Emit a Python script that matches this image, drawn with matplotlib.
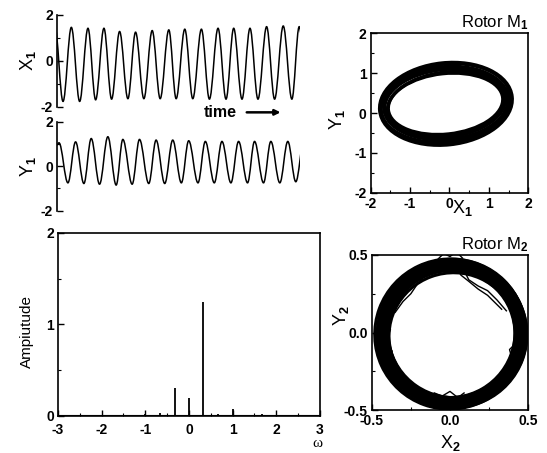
import matplotlib
matplotlib.use('Agg')
import matplotlib.pyplot as plt
from matplotlib.path import Path
from matplotlib.patches import PathPatch, Ellipse
from matplotlib.ticker import MultipleLocator, FormatStrFormatter

plt.rcParams['font.family'] = ['Liberation Sans', 'DejaVu Sans']
plt.rcParams['font.weight'] = 'bold'
plt.rcParams['font.size'] = 10
plt.rcParams['axes.unicode_minus'] = False
plt.rcParams['mathtext.fontset'] = 'custom'
plt.rcParams['mathtext.rm'] = 'Liberation Sans:bold'
plt.rcParams['mathtext.default'] = 'rm'

# X1 trace: turning points (t in cycles)
x1_t = [-0.13, 0.37, 0.88, 1.39, 1.90, 2.37, 2.88, 3.35, 3.84, 4.35, 4.82, 5.33,
        5.84, 6.33, 6.86, 7.31, 7.84, 8.33, 8.86, 9.35, 9.88, 10.37, 10.84,
        11.35, 11.84, 12.33, 12.86, 13.35, 13.88, 14.41, 14.86, 15.35]
x1_v = [1.50, -1.77, 1.46, -1.77, 1.42, -1.70, 1.42, -1.67, 1.28, -1.65, 1.25,
        -1.65, 1.32, -1.65, 1.35, -1.65, 1.38, -1.65, 1.38, -1.67, 1.42, -1.67,
        1.42, -1.67, 1.42, -1.67, 1.49, -1.67, 1.52, -1.67, 1.49, -1.67]

# Y1 trace: turning points
y1_t = [0.0, 0.12, 0.67, 1.14, 1.65, 2.10, 2.61, 3.12, 3.63, 4.04, 4.61, 5.06,
        5.63, 6.08, 6.61, 7.10, 7.63, 8.08, 8.65, 9.10, 9.65, 10.12, 10.67,
        11.14, 11.69, 12.12, 12.67, 13.12, 13.67, 14.16, 14.65, 15.14]
y1_v = [0.95, 1.05, -0.75, 1.09, -0.78, 1.24, -0.81, 1.32, -0.85, 1.20, -0.81,
        1.20, -0.78, 1.17, -0.78, 1.17, -0.75, 1.14, -0.75, 1.11, -0.75, 1.11,
        -0.75, 1.11, -0.75, 1.11, -0.75, 1.11, -0.75, 1.11, -0.70, 1.10]

# spectrum peaks
omega = [-1.33, -1.0, -0.67, -0.33, 0.0, 0.33, 0.67, 1.0, 1.33, 1.67, 2.0]
amp = [0.01, 0.02, 0.03, 0.31, 0.20, 1.25, 0.02, 0.08, 0.015, 0.02, 0.01]

# rotor M1 orbit loops (centre x, centre y, width, height, angle)
m1_cx = [-0.10, -0.08, -0.11, -0.09, -0.12, -0.10, -0.09]
m1_cy = [0.23, 0.22, 0.24, 0.23, 0.22, 0.24, 0.23]
m1_w = [2.92, 3.00, 3.08, 3.16, 3.24, 3.31, 3.38]
m1_h = [1.52, 1.61, 1.70, 1.79, 1.88, 1.97, 2.06]
m1_ang = [6, 7, 6, 5, 6, 7, 6]

# rotor M2 orbit loops
m2_cx = [0.01, 0.02, 0.00, 0.01, 0.03, -0.01, 0.02, 0.01, 0.00, 0.02,
         0.01, 0.00, 0.03, 0.01, 0.00, 0.02, 0.01, 0.00]
m2_cy = [-0.01, -0.02, 0.00, -0.01, 0.00, -0.01, -0.03, 0.00, -0.01, 0.00,
         -0.02, -0.01, -0.01, 0.00, -0.02, -0.01, 0.00, -0.01]
m2_w = [0.81, 0.82, 0.83, 0.84, 0.85, 0.86, 0.86, 0.87, 0.88, 0.89,
        0.90, 0.91, 0.92, 0.92, 0.93, 0.94, 0.95, 0.96]
m2_h = [0.82, 0.81, 0.84, 0.85, 0.84, 0.87, 0.87, 0.86, 0.89, 0.90,
        0.89, 0.92, 0.93, 0.92, 0.94, 0.95, 0.94, 0.97]
m2_ang = [0, 20, -15, 30, 10, -25, 40, 5, -10, 15, 35, -30, 0, 20, -5, 25, 45, -20]

# stray strands of the M2 orbit (x list, y list)
m2_strands = [
    ([0.03, 0.07, 0.12, 0.18, 0.24, 0.29, 0.33], [0.44, 0.37, 0.33, 0.28, 0.24, 0.19, 0.15]),
    ([0.08, 0.12, 0.18, 0.24, 0.30, 0.36], [0.42, 0.34, 0.30, 0.27, 0.21, 0.14]),
    ([-0.12, -0.17, -0.21, -0.25, -0.30, -0.35], [0.43, 0.36, 0.31, 0.25, 0.20, 0.13]),
    ([-0.42, -0.37, -0.33, -0.27, -0.21, -0.15], [-0.13, -0.21, -0.27, -0.31, -0.35, -0.41]),
    ([-0.10, -0.05, 0.00, 0.05, 0.09], [-0.39, -0.41, -0.38, -0.42, -0.39]),
    ([0.44, 0.38, 0.40, 0.36, 0.32, 0.27], [-0.05, -0.11, -0.18, -0.23, -0.28, -0.33]),
    ([-0.08, -0.04, 0.00, 0.04, 0.08], [0.47, 0.51, 0.49, 0.52, 0.48]),
    ([-0.44, -0.38, -0.41, -0.37], [0.10, 0.02, -0.06, -0.12]),
]


def wave_path(t, v, k=0.363):
    verts = [(t[0], v[0])]
    codes = [Path.MOVETO]
    for i in range(1, len(t)):
        dt = t[i] - t[i - 1]
        verts += [(t[i - 1] + k * dt, v[i - 1]), (t[i] - k * dt, v[i]), (t[i], v[i])]
        codes += [Path.CURVE4] * 3
    return Path(verts, codes)


def style_ticks(ax):
    ax.tick_params(which='major', direction='in', length=4, width=1, labelsize=10, pad=3)
    ax.tick_params(which='minor', direction='in', length=2, width=0.8)
    for s in ax.spines.values():
        s.set_linewidth(1.2)


fig = plt.figure(figsize=(5.47, 4.53), dpi=100)

# time traces
ax1 = fig.add_axes([0.1042, 0.7645, 0.444, 0.2024])
ax2 = fig.add_axes([0.1042, 0.535, 0.444, 0.1965])
for ax, t, v, lab in [(ax1, x1_t, x1_v, r'X$_1$'), (ax2, y1_t, y1_v, r'Y$_1$')]:
    ax.add_patch(PathPatch(wave_path(t, v), fill=False, lw=1.1, ec='black'))
    ax.set_xlim(0, 14.9)
    ax.set_ylim(-2, 2)
    ax.set_yticks([-2, 0, 2])
    ax.yaxis.set_minor_locator(MultipleLocator(1))
    for s in ['top', 'right', 'bottom']:
        ax.spines[s].set_visible(False)
    ax.set_xticks([])
    style_ticks(ax)
    ax.set_ylabel(lab, fontsize=13, labelpad=2)

fig.text(0.402, 0.751, 'time', ha='center', va='center', fontsize=11.5)
fig.add_artist(plt.Annotation('', xy=(0.518, 0.752), xytext=(0.446, 0.752),
                              xycoords='figure fraction',
                              arrowprops=dict(arrowstyle='-|>', lw=1.8, color='black',
                                              mutation_scale=8)))

# spectrum
ax3 = fig.add_axes([0.106, 0.0817, 0.479, 0.404])
ax3.vlines(omega, 0, amp, color='black', lw=1.3)
ax3.axhline(0.008, color='black', lw=0.8)
ax3.set_xlim(-3, 3)
ax3.set_ylim(0, 2)
ax3.set_xticks([-3, -2, -1, 0, 1, 2, 3])
ax3.set_yticks([0, 1, 2])
ax3.xaxis.set_minor_locator(MultipleLocator(0.5))
ax3.yaxis.set_minor_locator(MultipleLocator(0.5))
style_ticks(ax3)
ax3.tick_params(axis='x', pad=5)
ax3.set_ylabel('Ampiutude', fontsize=11)
ax3.yaxis.set_label_coords(-0.09, 0.46)
ax3.set_xlabel('ω', fontsize=11, family='Liberation Serif', fontweight='normal')
ax3.xaxis.set_label_coords(0.99, -0.115)

# rotor M1
ax4 = fig.add_axes([0.6777, 0.5746, 0.288, 0.3519])
for cx, cy, w, h, a in zip(m1_cx, m1_cy, m1_w, m1_h, m1_ang):
    ax4.add_patch(Ellipse((cx, cy), w, h, angle=a, fill=False, ec='black', lw=2.4))
ax4.set_xlim(-2, 2)
ax4.set_ylim(-2, 2)
ax4.set_xticks([-2, -1, 0, 1, 2])
ax4.set_yticks([-2, -1, 0, 1, 2])
ax4.xaxis.set_minor_locator(MultipleLocator(0.5))
ax4.yaxis.set_minor_locator(MultipleLocator(0.5))
style_ticks(ax4)
ax4.set_xlabel(r'X$_1$', fontsize=13)
ax4.xaxis.set_label_coords(0.585, -0.035)
ax4.set_ylabel(r'Y$_1$', fontsize=13)
ax4.yaxis.set_label_coords(-0.15, 0.46)
ax4.set_title(r'Rotor M$_1$', loc='right', fontsize=12, pad=4)

# rotor M2
ax5 = fig.add_axes([0.6795, 0.0949, 0.2863, 0.3422])
for cx, cy, w, h, a in zip(m2_cx, m2_cy, m2_w, m2_h, m2_ang):
    ax5.add_patch(Ellipse((cx, cy), w, h, angle=a, fill=False, ec='black', lw=2.2))
for sx, sy in m2_strands:
    ax5.plot(sx, sy, color='black', lw=1.0)
ax5.set_xlim(-0.5, 0.5)
ax5.set_ylim(-0.5, 0.5)
ax5.set_xticks([-0.5, 0.0, 0.5])
ax5.set_yticks([-0.5, 0.0, 0.5])
ax5.xaxis.set_major_formatter(FormatStrFormatter('%.1f'))
ax5.yaxis.set_major_formatter(FormatStrFormatter('%.1f'))
ax5.xaxis.set_minor_locator(MultipleLocator(0.25))
ax5.yaxis.set_minor_locator(MultipleLocator(0.25))
style_ticks(ax5)
ax5.set_xlabel(r'X$_2$', fontsize=13)
ax5.xaxis.set_label_coords(0.5, -0.15)
ax5.set_ylabel(r'Y$_2$', fontsize=13)
ax5.yaxis.set_label_coords(-0.13, 0.61)
ax5.set_title(r'Rotor M$_2$', loc='right', fontsize=12, pad=4)

fig.savefig('out.png', dpi=100)
